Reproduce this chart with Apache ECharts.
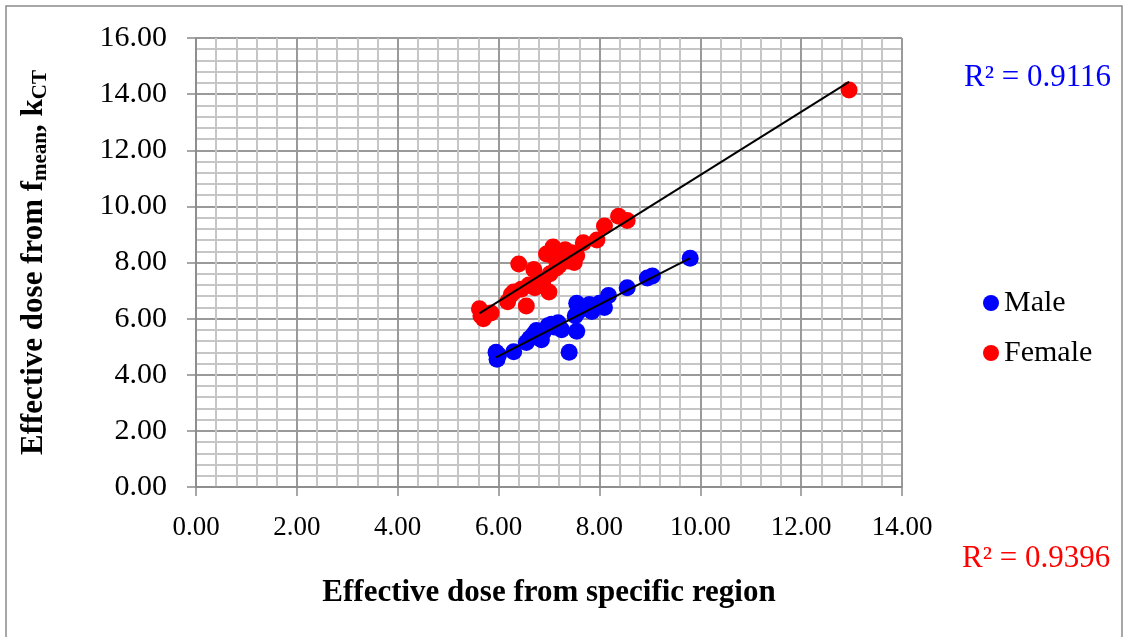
<!DOCTYPE html>
<html lang="en">
<head>
    <meta charset="UTF-8">
    <script src="https://cdn.jsdelivr.net/npm/echarts@6.0.0/dist/echarts.min.js"></script>
    <style>
        html, body { margin: 0; padding: 0; background: #fff; }
        #chart { width: 1126px; height: 637px; }
    </style>
</head>
<body>
    <div id="chart"></div>
    <script>
        // [effective dose from specific region, effective dose from f_mean]
        var maleData = [
            [5.95, 4.80], [5.97, 4.55], [6.00, 4.70], [6.30, 4.82], [6.55, 5.15],
            [6.62, 5.30], [6.70, 5.45], [6.75, 5.58], [6.85, 5.25], [6.88, 5.50],
            [6.98, 5.75], [7.05, 5.80], [7.10, 5.70], [7.18, 5.85], [7.25, 5.60],
            [7.40, 4.80], [7.52, 6.10], [7.55, 5.55], [7.55, 6.55], [7.58, 6.25],
            [7.65, 6.35], [7.72, 6.40], [7.80, 6.50], [7.85, 6.25], [7.95, 6.45],
            [8.00, 6.55], [8.05, 6.50], [8.10, 6.40], [8.18, 6.82], [8.55, 7.10],
            [8.95, 7.45], [9.05, 7.52], [9.80, 8.15]
        ];
        var femaleData = [
            [5.62, 6.35], [5.65, 6.10], [5.70, 6.00], [5.85, 6.20], [6.18, 6.60],
            [6.25, 6.85], [6.30, 6.95], [6.40, 7.95], [6.45, 7.05], [6.55, 6.45],
            [6.60, 7.20], [6.70, 7.75], [6.72, 7.10], [6.80, 7.30], [6.88, 7.35],
            [6.95, 8.30], [7.00, 6.95], [7.02, 7.60], [7.08, 8.55], [7.10, 8.20],
            [7.15, 7.80], [7.20, 7.90], [7.25, 8.15], [7.32, 8.45], [7.38, 8.05],
            [7.45, 8.35], [7.50, 8.00], [7.55, 8.25], [7.68, 8.70], [7.95, 8.80],
            [8.10, 9.30], [8.38, 9.65], [8.55, 9.50], [12.95, 14.15]
        ];
        var seriesNames = ['Male', 'Female'];
        var rSquared = ['R² = 0.9116', 'R² = 0.9396'];

        // least squares trendline over the data's x range
        function trend(data) {
            var n = data.length, sx = 0, sy = 0, sxx = 0, sxy = 0;
            var lo = Infinity, hi = -Infinity;
            data.forEach(function (p) {
                sx += p[0]; sy += p[1]; sxx += p[0] * p[0]; sxy += p[0] * p[1];
                lo = Math.min(lo, p[0]); hi = Math.max(hi, p[0]);
            });
            var b = (n * sxy - sx * sy) / (n * sxx - sx * sx);
            var a = (sy - b * sx) / n;
            return [[lo, a + b * lo], [hi, a + b * hi]];
        }

        var serif = '"Liberation Serif", "Times New Roman", serif';
        var chart = echarts.init(document.getElementById('chart'));

        function valueAxis(max, labelSize, margin) {
            return {
                type: 'value',
                min: 0,
                max: max,
                interval: 2,
                axisLine: { show: true, lineStyle: { color: '#8a8a8a', width: 1.5 } },
                axisTick: { show: true, length: 9, lineStyle: { color: '#8a8a8a', width: 1.5 } },
                axisLabel: {
                    color: '#000', fontFamily: serif, fontSize: labelSize, margin: margin,
                    formatter: function (v) { return v.toFixed(2); }
                },
                splitLine: { show: true, lineStyle: { color: '#9a9a9a', width: 2 } },
                minorTick: { show: false, splitNumber: 5 },
                minorSplitLine: { show: true, lineStyle: { color: '#c6c6c6', width: 2 } }
            };
        }

        var xAxis = valueAxis(14, 27, 27);
        xAxis.name = 'Effective dose from specific region';
        xAxis.nameLocation = 'middle';
        xAxis.nameGap = 90;
        xAxis.nameTextStyle = { color: '#000', fontFamily: serif, fontSize: 31, fontWeight: 'bold' };

        var yAxis = valueAxis(16, 30, 29);
        yAxis.name = '{b|Effective dose from f}{s|mean}{b|, k}{s|CT}';
        yAxis.nameLocation = 'middle';
        yAxis.nameGap = 145;
        yAxis.nameTextStyle = {
            rich: {
                b: { color: '#000', fontFamily: serif, fontSize: 31, fontWeight: 'bold', lineHeight: 34 },
                s: { color: '#000', fontFamily: serif, fontSize: 21, fontWeight: 'bold', verticalAlign: 'bottom', lineHeight: 34, padding: [16, 0, 0, 0] }
            }
        };

        chart.setOption({
            animation: false,
            backgroundColor: '#fff',
            grid: { left: 196, top: 38, right: 224, bottom: 150, containLabel: false },
            xAxis: xAxis,
            yAxis: yAxis,
            legend: {
                data: seriesNames,
                orient: 'vertical',
                left: 978,
                top: 283,
                itemGap: 20,
                itemWidth: 16,
                itemHeight: 16,
                textStyle: { color: '#000', fontFamily: serif, fontSize: 30 }
            },
            graphic: [
                {
                    type: 'rect', silent: true,
                    shape: { x: 6, y: 6, width: 1116, height: 640 },
                    style: { fill: 'none', stroke: '#8a8a8a', lineWidth: 1.5 }
                },
                {
                    type: 'text', left: 964, top: 62,
                    style: { text: rSquared[0], fill: '#0000ff', font: '31px ' + serif }
                },
                {
                    type: 'text', left: 962, top: 543,
                    style: { text: rSquared[1], fill: '#ff0000', font: '31px ' + serif }
                }
            ],
            series: [
                {
                    name: seriesNames[0], type: 'scatter', data: maleData,
                    symbol: 'circle', symbolSize: 17, itemStyle: { color: '#0000ff', opacity: 1 }, z: 3
                },
                {
                    name: seriesNames[1], type: 'scatter', data: femaleData,
                    symbol: 'circle', symbolSize: 17, itemStyle: { color: '#ff0000', opacity: 1 }, z: 3
                },
                {
                    type: 'line', data: trend(maleData), showSymbol: false, silent: true,
                    lineStyle: { color: '#000', width: 2 }, z: 4
                },
                {
                    type: 'line', data: trend(femaleData), showSymbol: false, silent: true,
                    lineStyle: { color: '#000', width: 2 }, z: 4
                }
            ]
        });
    </script>
</body>
</html>
